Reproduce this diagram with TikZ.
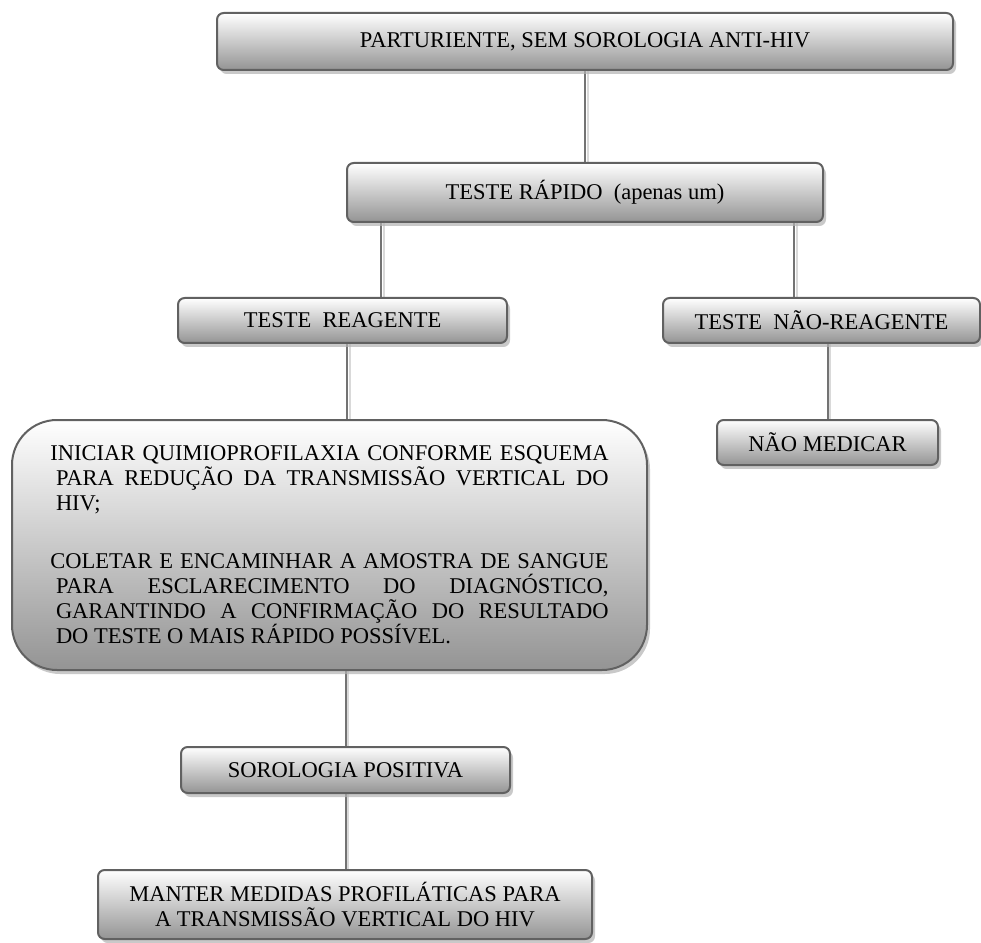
\documentclass[tikz,border=0pt]{standalone}
\usepackage{fontspec}
\setmainfont{Liberation Serif}
\usetikzlibrary{shadows,backgrounds}
\definecolor{boxline}{gray}{0.38}
\definecolor{boxlow}{gray}{0.58}
\definecolor{linkgray}{gray}{0.45}
\newlength{\jw}
\setlength{\jw}{335pt}
\newcommand{\jline}[1]{\makebox[\jw][s]{#1}}

\begin{document}
\begin{tikzpicture}[x=0.6pt, y=-0.6pt,
  box/.style={draw=boxline, line width=1.2pt, rounded corners=4pt,
    top color=white, bottom color=boxlow, align=center,
    drop shadow={shadow xshift=1.8pt, shadow yshift=-2.4pt, fill=black!30, opacity=0.7},
    font=\fontsize{13.5}{15}\selectfont, inner sep=2pt},
  bigbox/.style={box, rounded corners=27pt},
  link/.style={draw=linkgray, line width=1.2pt,
    preaction={draw=black!15, line width=1.2pt, transform canvas={xshift=1.5pt}}}
]
\useasboundingbox (0,0) rectangle (981,943);

\node[box, minimum width=441.6pt, minimum height=34.2pt] (inicio) at (585,41.5)
  {PARTURIENTE, SEM SOROLOGIA ANTI-HIV};
\node[box, minimum width=285.6pt, minimum height=35.4pt] (rapido) at (585,192.5)
  {TESTE RÁPIDO~~(apenas um)};
\node[box, minimum width=197.4pt, minimum height=27pt] (reag) at (342.5,320.5)
  {TESTE~~REAGENTE};
\node[box, minimum width=190.2pt, minimum height=27pt] (naoreag) at (821.5,320.5)
  {TESTE~~NÃO-REAGENTE};
\node[box, minimum width=132.6pt, minimum height=27pt] (naomed) at (827.5,442.5)
  {NÃO MEDICAR};
\node[bigbox, minimum width=381pt, minimum height=150pt, align=left] (quimio) at (329.5,545)
  {\jline{INICIAR QUIMIOPROFILAXIA CONFORME ESQUEMA}\\
   \jline{\hspace*{3.4pt}PARA REDUÇÃO DA TRANSMISSÃO VERTICAL DO}\\
   \hspace*{3.4pt}HIV;\\[20pt]
   \jline{COLETAR E ENCAMINHAR A AMOSTRA DE SANGUE}\\
   \jline{\hspace*{3.4pt}PARA ESCLARECIMENTO DO DIAGNÓSTICO,}\\
   \jline{\hspace*{3.4pt}GARANTINDO A CONFIRMAÇÃO DO RESULTADO}\\
   \hspace*{3.4pt}DO TESTE O MAIS RÁPIDO POSSÍVEL.};
\node[box, minimum width=197.4pt, minimum height=27.6pt] (soro) at (345.5,770)
  {SOROLOGIA POSITIVA};
\node[box, minimum width=296.4pt, minimum height=41.4pt] (manter) at (345,904.5)
  {MANTER MEDIDAS PROFILÁTICAS PARA\\A TRANSMISSÃO VERTICAL DO HIV};

% ligacoes
\begin{scope}[on background layer]
\draw[link] (inicio) -- (rapido);
\draw[link] ([xshift=-122.4pt]rapido.south) -- ([xshift=-122.4pt]rapido.south |- reag.north);
\draw[link] ([xshift=125.4pt]rapido.south) -- ([xshift=125.4pt]rapido.south |- naoreag.north);
\draw[link] ([xshift=2.7pt]reag.south) -- ([xshift=2.7pt]reag.south |- quimio.north);
\draw[link] (naomed.north |- naoreag.south) -- (naomed.north);
\draw[link] (soro.north |- quimio.south) -- (soro.north);
\draw[link] (soro.south) -- (soro.south |- manter.north);
\end{scope}
\end{tikzpicture}
\end{document}
